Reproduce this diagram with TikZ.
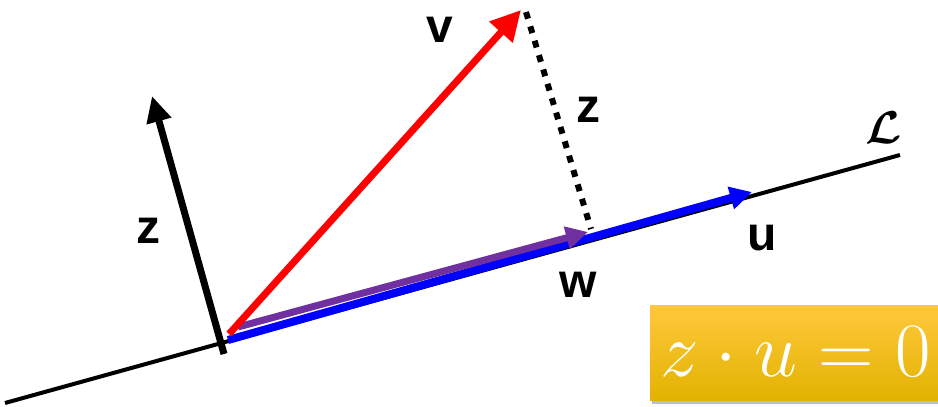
\RequirePackage{fix-cm}
\documentclass[tikz,border=0pt]{standalone}
\usepackage{fontspec}
\setsansfont{Liberation Sans}
\usetikzlibrary{arrows.meta,shadows}
\definecolor{projpurple}{HTML}{7030A0}
\definecolor{boxtop}{HTML}{FFC83D}
\definecolor{boxmid}{HTML}{FFC000}
\definecolor{boxbot}{HTML}{E2B300}
\tikzset{
  veclabel/.style={font=\fontsize{48}{48}\sffamily\bfseries, inner sep=0pt},
  linelabel/.style={font=\fontsize{46}{46}\selectfont\boldmath, inner sep=0pt},
  eqtext/.style={text=white, inner sep=0pt, font=\fontsize{77}{77}\selectfont},
}
\begin{document}
\begin{tikzpicture}[x=1pt, y=-1pt]
  \useasboundingbox (0,0) rectangle (938,407);
  % the line L and the points on it
  \coordinate (lstart) at (5,403);
  \coordinate (lend) at (900,155);
  \coordinate (o) at (228,340);
  \coordinate (wtip) at (588,232);
  \coordinate (utip) at (752,192);
  \coordinate (vtip) at (521,10);
  \coordinate (ztail) at (224,354);
  \coordinate (ztip) at (152,96);
  \coordinate (wtail) at (238,327);
  \coordinate (vtail) at (229,334);
  \coordinate (ztop) at (526,12);
  \coordinate (zbot) at (591,229);
  \draw[line width=4pt] (lstart) -- (lend);
  % vectors
  \draw[line width=8pt, blue, -{Triangle[length=22pt, width=22pt]}] (o) -- (utip);
  \draw[line width=7pt, projpurple, -{Triangle[length=22pt, width=22pt]}] (wtail) -- (wtip);
  \draw[line width=7pt, red, -{Triangle[length=30pt, width=30pt]}] (vtail) -- (vtip);
  \draw[line width=6pt, dash pattern=on 7pt off 8pt] (ztop) -- (zbot);
  \draw[line width=7pt, -{Triangle[length=26pt, width=24pt]}] (ztail) -- (ztip);
  % labels
  \node[veclabel] (vlab) at (440,30) {v};
  \node[veclabel] (zlab) at (588,110) {z};
  \node[veclabel] (zlab2) at (148,231) {z};
  \node[veclabel] (wlab) at (578,285) {w};
  \node[veclabel] (ulab) at (762,238) {u};
  \node[linelabel] (llab) at (884,128) {$\mathcal{L}$};
  % the equation box
  \node[rectangle, minimum width=300pt, minimum height=95pt, anchor=north west,
        top color=boxtop, middle color=boxmid, bottom color=boxbot,
        drop shadow={shadow xshift=2pt, shadow yshift=-4pt, opacity=0.5}]
        (eqbox) at (650,305) {};
  \node[eqtext, anchor=west] (eq) at (660,352) {$z\cdot u=0$};
\end{tikzpicture}
\end{document}
